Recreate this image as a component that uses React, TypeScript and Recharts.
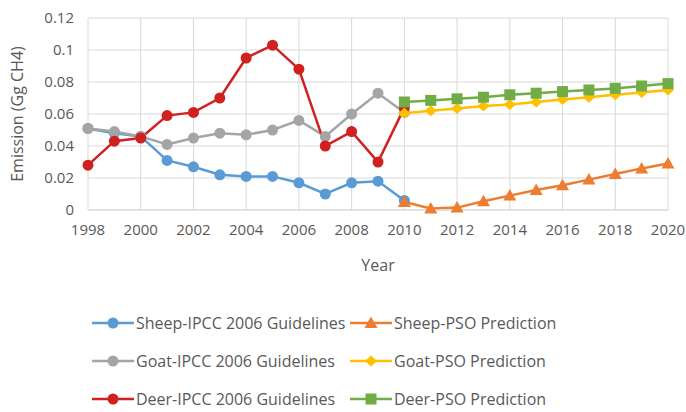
import { CartesianGrid, Label, Line, LineChart, XAxis, YAxis } from "recharts";

const YEARS = [
  1998, 1999, 2000, 2001, 2002, 2003, 2004, 2005, 2006, 2007, 2008, 2009, 2010,
  2011, 2012, 2013, 2014, 2015, 2016, 2017, 2018, 2019, 2020,
];

const SHEEP_IPCC = [
  0.051, 0.048, 0.046, 0.031, 0.027, 0.022, 0.021, 0.021, 0.017, 0.01, 0.017, 0.018, 0.006,
  null, null, null, null, null, null, null, null, null, null,
];
const GOAT_IPCC = [
  0.051, 0.049, 0.046, 0.041, 0.045, 0.048, 0.047, 0.05, 0.056, 0.046, 0.06, 0.073, 0.061,
  null, null, null, null, null, null, null, null, null, null,
];
const DEER_IPCC = [
  0.028, 0.043, 0.045, 0.059, 0.061, 0.07, 0.095, 0.103, 0.088, 0.04, 0.049, 0.03, 0.064,
  null, null, null, null, null, null, null, null, null, null,
];
const SHEEP_PSO = [
  null, null, null, null, null, null, null, null, null, null, null, null,
  0.005, 0.001, 0.0015, 0.0055, 0.009, 0.0125, 0.0155, 0.019, 0.0225, 0.026, 0.029,
];
const GOAT_PSO = [
  null, null, null, null, null, null, null, null, null, null, null, null,
  0.0605, 0.062, 0.0635, 0.065, 0.066, 0.0675, 0.069, 0.0705, 0.072, 0.0735, 0.075,
];
const DEER_PSO = [
  null, null, null, null, null, null, null, null, null, null, null, null,
  0.0675, 0.0685, 0.0695, 0.0705, 0.072, 0.073, 0.074, 0.075, 0.076, 0.0775, 0.079,
];

const X_TICKS = [1998, 2000, 2002, 2004, 2006, 2008, 2010, 2012, 2014, 2016, 2018, 2020];
const Y_TICKS = [0, 0.02, 0.04, 0.06, 0.08, 0.1, 0.12];

type Shape = "circle" | "triangle" | "diamond" | "square";

const SERIES: Array<{ key: string; name: string; color: string; shape: Shape; values: (number | null)[] }> = [
  { key: "sheepIpcc", name: "Sheep-IPCC 2006 Guidelines", color: "#5B9BD5", shape: "circle", values: SHEEP_IPCC },
  { key: "goatIpcc", name: "Goat-IPCC 2006 Guidelines", color: "#A5A5A5", shape: "circle", values: GOAT_IPCC },
  { key: "deerIpcc", name: "Deer-IPCC 2006 Guidelines", color: "#D0201F", shape: "circle", values: DEER_IPCC },
  { key: "sheepPso", name: "Sheep-PSO Prediction", color: "#ED7D31", shape: "triangle", values: SHEEP_PSO },
  { key: "goatPso", name: "Goat-PSO Prediction", color: "#FFC000", shape: "diamond", values: GOAT_PSO },
  { key: "deerPso", name: "Deer-PSO Prediction", color: "#70AD47", shape: "square", values: DEER_PSO },
];

// legend order: left column IPCC, right column PSO
const LEGEND_ROWS = [
  ["sheepIpcc", "sheepPso"],
  ["goatIpcc", "goatPso"],
  ["deerIpcc", "deerPso"],
];

const data = YEARS.map((year, i) => {
  const row: Record<string, number | null> = { year };
  SERIES.forEach((s) => {
    row[s.key] = s.values[i];
  });
  return row;
});

const TEXT = "#595959";
const GRID = "#d9d9d9";

function markerEl(shape: Shape, cx: number, cy: number, color: string, key?: string | number) {
  switch (shape) {
    case "circle":
      return <circle key={key} cx={cx} cy={cy} r={5.5} fill={color} />;
    case "triangle":
      return (
        <polygon key={key} points={`${cx},${cy - 6.5} ${cx + 6.5},${cy + 5} ${cx - 6.5},${cy + 5}`} fill={color} />
      );
    case "diamond":
      return (
        <polygon key={key} points={`${cx},${cy - 5.5} ${cx + 6},${cy} ${cx},${cy + 5.5} ${cx - 6},${cy}`} fill={color} />
      );
    default:
      return <rect key={key} x={cx - 5.5} y={cy - 5.5} width={11} height={11} fill={color} />;
  }
}

function dotFor(shape: Shape, color: string) {
  return (props: any) => {
    const { cx, cy, index, value } = props;
    if (cx == null || cy == null || value == null) return <g key={index} />;
    return markerEl(shape, cx, cy, color, index);
  };
}

function LegendItem({ s }: { s: (typeof SERIES)[number] }) {
  return (
    <div style={{ display: "flex", alignItems: "center", height: 18 }}>
      <svg width={42} height={16} style={{ marginRight: 2 }}>
        <line x1={0} y1={8} x2={42} y2={8} stroke={s.color} strokeWidth={2.5} />
        {markerEl(s.shape, 21, 8, s.color)}
      </svg>
      <span style={{ whiteSpace: "nowrap" }}>{s.name}</span>
    </div>
  );
}

export default function App() {
  const byKey = Object.fromEntries(SERIES.map((s) => [s.key, s]));
  return (
    <div
      style={{
        position: "absolute",
        left: 0,
        top: 0,
        width: 686,
        height: 412,
        background: "#fff",
        fontFamily: "'Open Sans', sans-serif",
      }}
    >
      <LineChart width={686} height={412} data={data} margin={{ top: 18, right: 18, left: 28, bottom: 172 }}>
        <CartesianGrid stroke={GRID} strokeWidth={1} />
        <XAxis
          dataKey="year"
          type="number"
          domain={[1998, 2020]}
          ticks={X_TICKS}
          tickLine={false}
          axisLine={{ stroke: GRID }}
          tick={{ fill: TEXT, fontSize: 15 }}
          tickMargin={8}
          height={30}
        >
          <Label value="Year" position="bottom" offset={20} fill={TEXT} fontSize={16} />
        </XAxis>
        <YAxis
          type="number"
          domain={[0, 0.12]}
          ticks={Y_TICKS}
          tickLine={false}
          axisLine={false}
          width={60}
          tick={{ fill: TEXT, fontSize: 15 }}
          tickMargin={8}
          tickFormatter={(v: number) => (v === 0 ? "0" : String(+v.toFixed(2)))}
        >
          <Label value="Emission (Gg CH4)" angle={-90} position="center" dx={-41} fill={TEXT} fontSize={16} />
        </YAxis>
        {SERIES.map((s) => (
          <Line
            key={s.key}
            dataKey={s.key}
            name={s.name}
            stroke={s.color}
            strokeWidth={2.5}
            dot={dotFor(s.shape, s.color)}
            activeDot={false}
            isAnimationActive={false}
          />
        ))}
      </LineChart>
      <div style={{ position: "absolute", left: 92, top: 314, color: TEXT, fontSize: 16, lineHeight: "18px" }}>
        {LEGEND_ROWS.map((row, i) => (
          <div key={i} style={{ display: "flex", height: 18, marginBottom: i < 2 ? 20 : 0 }}>
            <div style={{ width: 258 }}>
              <LegendItem s={byKey[row[0]]} />
            </div>
            <LegendItem s={byKey[row[1]]} />
          </div>
        ))}
      </div>
    </div>
  );
}
